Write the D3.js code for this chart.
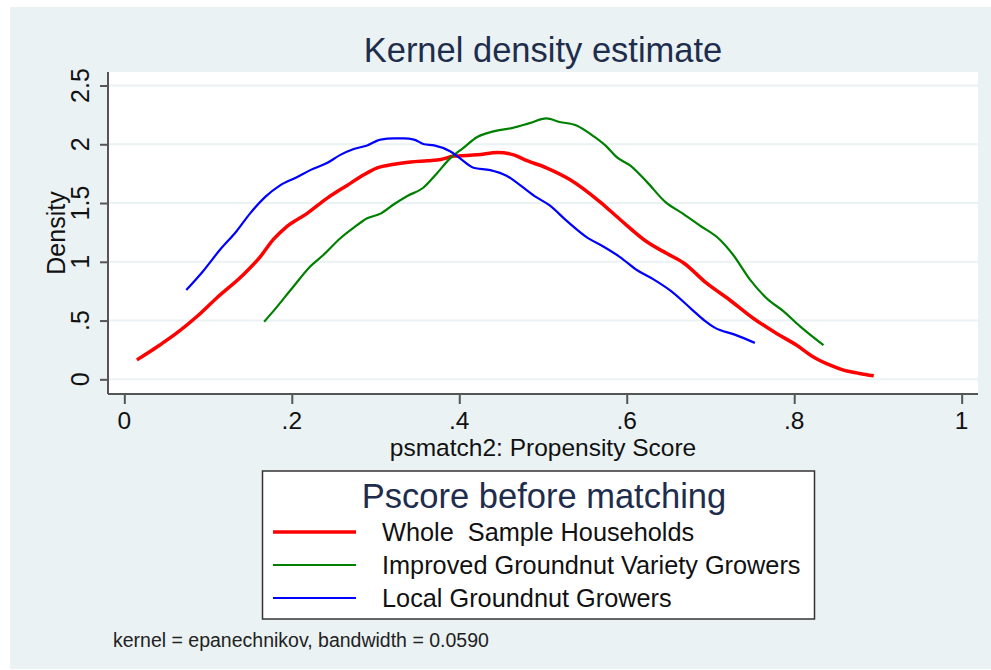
<html lang="en">
  <head>
    <title>Kernel density estimate</title>
    <script src="https://d3js.org/d3.v7.min.js"></script>
    <style>
    body { margin: 0; background: white; }
    svg text { font-family: "Liberation Sans", Arial, sans-serif; white-space: pre; }
    </style>
  </head>
  <body>
    <svg id="chart"></svg>
    <script>
      // propensity score grid points and density values
      var wholeX = [0.015,0.042,0.062,0.086,0.110,0.142,0.162,0.178,0.194,0.218,0.242,0.266,0.286,0.302,0.322,0.342,0.362,0.378,0.394,0.422,0.446,0.465,0.481,0.504,0.532,0.568,0.592,0.624,0.648,0.668,0.695,0.723,0.751,0.779,0.803,0.823,0.843,0.858,0.878,0.895];
      var wholeY = [0.165,0.29,0.39,0.53,0.69,0.89,1.04,1.19,1.30,1.41,1.54,1.65,1.74,1.80,1.83,1.85,1.86,1.87,1.90,1.91,1.93,1.91,1.86,1.80,1.70,1.51,1.36,1.17,1.07,0.99,0.82,0.675,0.52,0.39,0.29,0.19,0.12,0.08,0.05,0.03];

      var improvedX = [0.167,0.178,0.202,0.222,0.238,0.258,0.274,0.290,0.306,0.322,0.338,0.357,0.373,0.389,0.405,0.421,0.441,0.464,0.484,0.504,0.520,0.540,0.560,0.576,0.588,0.604,0.624,0.646,0.667,0.687,0.711,0.727,0.747,0.767,0.787,0.807,0.835];
      var improvedY = [0.49,0.58,0.79,0.96,1.06,1.20,1.29,1.37,1.41,1.49,1.56,1.63,1.75,1.88,1.97,2.06,2.11,2.14,2.18,2.22,2.19,2.16,2.07,1.98,1.89,1.82,1.68,1.51,1.41,1.31,1.19,1.06,0.85,0.69,0.58,0.45,0.29];

      var localX = [0.074,0.094,0.114,0.134,0.150,0.168,0.186,0.206,0.222,0.242,0.258,0.274,0.290,0.306,0.322,0.334,0.346,0.358,0.370,0.389,0.401,0.417,0.437,0.457,0.473,0.492,0.508,0.528,0.552,0.572,0.592,0.612,0.632,0.653,0.677,0.693,0.705,0.729,0.753];
      var localY = [0.76,0.92,1.10,1.26,1.41,1.55,1.65,1.72,1.78,1.84,1.91,1.96,1.99,2.04,2.05,2.05,2.04,2.00,1.99,1.94,1.88,1.80,1.78,1.73,1.65,1.55,1.48,1.35,1.21,1.13,1.04,0.93,0.85,0.75,0.60,0.50,0.44,0.38,0.31];

      var seriesNames = ["Whole  Sample Households", "Improved Groundnut Variety Growers", "Local Groundnut Growers"];
      var xTicks = [0, 0.2, 0.4, 0.6, 0.8, 1];
      var xTickLabels = ["0", ".2", ".4", ".6", ".8", "1"];
      var yTicks = [0, 0.5, 1, 1.5, 2, 2.5];
      var yTickLabels = ["0", ".5", "1", "1.5", "2", "2.5"];

      var W = 991, H = 670;
      var plot = {left: 108, right: 978, top: 72, bottom: 394};

      var svg = d3.select("#chart").attr("width", W).attr("height", H);

      // stata-like background
      svg.append("rect").attr("x", 10).attr("y", 7).attr("width", W - 10).attr("height", 662)
        .attr("fill", "#eaf2f3");
      svg.append("rect").attr("x", plot.left).attr("y", plot.top)
        .attr("width", plot.right - plot.left).attr("height", plot.bottom - plot.top)
        .attr("fill", "white");

      var x = d3.scaleLinear().domain([-0.0195, 1.0195]).range([plot.left, plot.right]);
      var y = d3.scaleLinear().domain([-0.125, 2.615]).range([plot.bottom, plot.top]);

      // gridlines
      svg.append("g").selectAll("line").data(yTicks).enter().append("line")
        .attr("x1", plot.left).attr("x2", plot.right)
        .attr("y1", function(d) { return y(d); }).attr("y2", function(d) { return y(d); })
        .attr("stroke", "#eaf2f3").attr("stroke-width", 2);

      // axes
      var yAxis = d3.axisLeft(y).tickValues(yTicks).tickSize(8).tickFormat("");
      var gy = svg.append("g").attr("transform", "translate(" + plot.left + ",0)").call(yAxis);
      gy.select(".domain").attr("d", "M0," + plot.top + "V" + plot.bottom);
      var xAxis = d3.axisBottom(x).tickValues(xTicks).tickSize(10).tickFormat("");
      var gx = svg.append("g").attr("transform", "translate(0," + plot.bottom + ")").call(xAxis);
      gx.select(".domain").attr("d", "M" + plot.left + ",0H" + plot.right);
      svg.selectAll(".domain, .tick line").attr("stroke", "#555").attr("stroke-width", 2);

      svg.append("g").selectAll("text").data(yTicks).enter().append("text")
        .attr("transform", function(d) { return "translate(89," + y(d) + ") rotate(-90)"; })
        .attr("text-anchor", "middle").attr("font-size", 25).attr("fill", "#111")
        .text(function(d, i) { return yTickLabels[i]; });

      svg.append("g").selectAll("text").data(xTicks).enter().append("text")
        .attr("x", function(d) { return x(d); }).attr("y", 429)
        .attr("text-anchor", "middle").attr("font-size", 24.5).attr("fill", "#111")
        .text(function(d, i) { return xTickLabels[i]; });

      svg.append("text").attr("x", 543).attr("y", 456).attr("text-anchor", "middle")
        .attr("font-size", 24.5).attr("fill", "#111").text("psmatch2: Propensity Score");
      svg.append("text").attr("transform", "translate(65,233) rotate(-90)")
        .attr("text-anchor", "middle").attr("font-size", 25).attr("fill", "#111").text("Density");

      svg.append("text").attr("x", 543).attr("y", 62).attr("text-anchor", "middle")
        .attr("font-size", 34.5).attr("fill", "#1f2d4d").text("Kernel density estimate");

      // curves
      var series = [
        {xs: wholeX, ys: wholeY, color: "#ff0000", width: 3.5},
        {xs: improvedX, ys: improvedY, color: "#008000", width: 2.2},
        {xs: localX, ys: localY, color: "#0000ff", width: 2.2}
      ];
      var line = d3.line()
        .x(function(d) { return x(d[0]); })
        .y(function(d) { return y(d[1]); })
        .curve(d3.curveMonotoneX);
      svg.append("g").selectAll("path").data(series).enter().append("path")
        .attr("d", function(s) { return line(d3.zip(s.xs, s.ys)); })
        .attr("fill", "none")
        .attr("stroke", function(s) { return s.color; })
        .attr("stroke-width", function(s) { return s.width; })
        .attr("stroke-linejoin", "round");

      // legend
      var leg = svg.append("g");
      leg.append("rect").attr("x", 262.5).attr("y", 471).attr("width", 552).attr("height", 148)
        .attr("fill", "white").attr("stroke", "#333").attr("stroke-width", 1.5);
      leg.append("text").attr("x", 544).attr("y", 508).attr("text-anchor", "middle")
        .attr("font-size", 34.5).attr("fill", "#1f2d4d").text("Pscore before matching");
      var rows = leg.selectAll("g.row").data(series).enter().append("g").attr("class", "row")
        .attr("transform", function(d, i) { return "translate(0," + (532 + i * 33) + ")"; });
      rows.append("line").attr("x1", 273).attr("x2", 356).attr("y1", 0).attr("y2", 0)
        .attr("stroke", function(s) { return s.color; })
        .attr("stroke-width", function(s) { return s.width; });
      rows.append("text").attr("x", 382).attr("y", 9).attr("font-size", 25.3).attr("fill", "#111")
        .text(function(d, i) { return seriesNames[i]; });

      svg.append("text").attr("x", 113).attr("y", 647).attr("font-size", 19.5).attr("fill", "#222")
        .text("kernel = epanechnikov, bandwidth = 0.0590");
    </script>
  </body>
</html>
